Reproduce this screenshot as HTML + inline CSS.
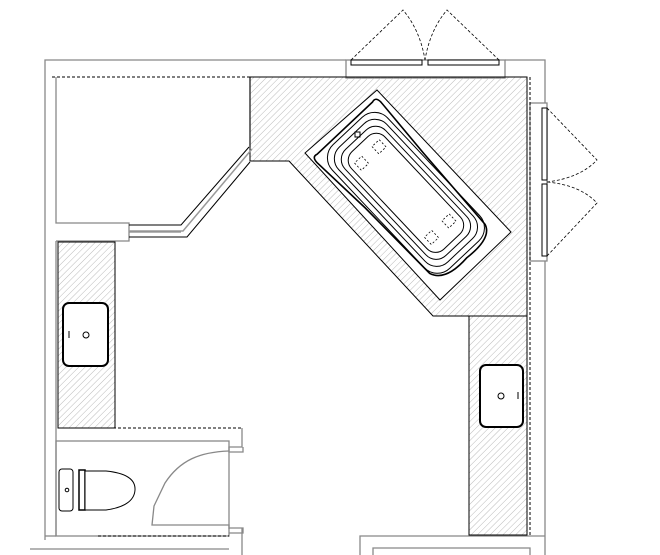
<!DOCTYPE html>
<html><head><meta charset="utf-8"><style>html,body{margin:0;padding:0;background:#fff}svg{display:block}</style></head>
<body>
<svg width="660" height="555" viewBox="0 0 660 555" xmlns="http://www.w3.org/2000/svg">
<defs>
<pattern id="h" patternUnits="userSpaceOnUse" width="4.5" height="4.5" patternTransform="rotate(45)">
<line x1="0" y1="0" x2="0" y2="5" stroke="#aaa" stroke-width="0.8"/>
</pattern>
</defs>
<g fill="none" stroke="#888" stroke-width="1.3">
<polyline points="45,540 45,60 346,60"/>
<polyline points="505,60 545,60 545,103"/>
<line x1="545" y1="261" x2="545" y2="555"/>
<rect x="346" y="60" width="159" height="18"/>
<rect x="530" y="103" width="17" height="158"/>
<polyline points="56,77 56,223 129,223 129,241 56,241"/>
<line x1="129" y1="232" x2="181" y2="232"/>
<polyline points="56,241 56,536"/>
<rect x="56" y="441" width="173" height="95"/>
<line x1="45" y1="536" x2="56" y2="536"/>
<line x1="30" y1="549" x2="229" y2="549"/>
<polyline points="242,428 242,447 229,447 229,452 243,452 243,447"/>
<polyline points="242,528 242,555"/>
<polyline points="229,528 243,528 243,533 229,533"/>
<path d="M229,451 C200,452 180,460 165,483 L154,506 L152,525 L229,525 L229,529"/>
<polyline points="360,555 360,536 545,536"/>
<polyline points="373,555 373,548 530,548 530,555"/>
<line x1="250" y1="77" x2="250" y2="147"/>
</g>
<polygon points="250,77 527,77 527,316 433,316 289,161 250,161" fill="url(#h)" stroke="#000" stroke-width="1"/>
<polygon points="377,90 511,232 440,300 305,153" fill="#fff" stroke="#000" stroke-width="1"/>
<rect x="469" y="316" width="58" height="219" fill="url(#h)" stroke="#000" stroke-width="1"/>
<rect x="58" y="242" width="57" height="186" fill="url(#h)" stroke="#000" stroke-width="1"/>
<line x1="250" y1="77" x2="250" y2="161" stroke="#000"/>
<g stroke="#000" stroke-dasharray="3,2" fill="none" stroke-width="1">
<line x1="52" y1="77" x2="527" y2="77"/>
<line x1="530" y1="77" x2="530" y2="535"/>
<line x1="58" y1="428" x2="242" y2="428"/>
<line x1="98" y1="536" x2="229" y2="536"/>
</g>
<g stroke="#000" fill="none" stroke-width="1">
<polyline points="129,225 181,225 249,147"/>
<polyline points="129,237 187,237 250,162"/>
</g>
<polyline points="129,231 183,231 252,149" stroke="#999" fill="none" stroke-width="1.5"/>
<g stroke="#000" fill="#fff" stroke-width="1">
<rect x="351" y="60" width="71" height="5"/>
<rect x="428" y="60" width="71" height="5"/>
<rect x="542" y="108" width="5" height="72"/>
<rect x="542" y="184" width="5" height="72"/>
</g>
<g stroke="#000" fill="none" stroke-width="0.8" stroke-dasharray="3,2">
<path d="M351,60 L403,10 Q420,30 425,60"/>
<path d="M499,60 L447,10 Q430,30 425,60"/>
<path d="M547,108 L597,160 Q580,178 547,182"/>
<path d="M547,256 L597,203 Q580,185 547,182"/>
</g>
<g transform="translate(408,195) rotate(46.7)" fill="none" stroke="#000" stroke-width="1">
<path d="M-92,-38 Q-94,-44 -86,-44 L-20,-40 L74,-36 Q89,-32 86,0 Q89,32 72,38 L-20,40 L-86,44 Q-94,44 -92,38 Z" stroke-width="1.6"/>
<rect x="-88" y="-38" width="170" height="76" rx="18"/>
<rect x="-82" y="-33" width="158" height="66" rx="16"/>
<rect x="-76" y="-28" width="146" height="56" rx="14"/>
<rect x="-70" y="-23" width="134" height="46" rx="12"/>
<g stroke-dasharray="2,2" stroke-width="0.8">
<rect x="-60" y="-17" width="10" height="10"/><rect x="-60" y="7" width="10" height="10"/>
<rect x="42" y="-17" width="10" height="10"/><rect x="42" y="7" width="10" height="10"/>
</g>
</g>
<rect x="355" y="132" width="5" height="5" fill="none" stroke="#000"/>
<rect x="480" y="365" width="43" height="62" rx="6" fill="#fff" stroke="#000" stroke-width="2"/>
<circle cx="501" cy="396" r="3" fill="none" stroke="#000"/>
<line x1="518" y1="392" x2="518" y2="399" stroke="#000"/>
<rect x="63" y="303" width="45" height="63" rx="6" fill="#fff" stroke="#000" stroke-width="2"/>
<circle cx="86" cy="335" r="3" fill="none" stroke="#000"/>
<line x1="69" y1="331" x2="69" y2="338" stroke="#000"/>
<g stroke="#000" fill="#fff" stroke-width="1">
<rect x="59" y="469" width="14" height="42" rx="3"/>
<rect x="79" y="470" width="6" height="40" stroke-width="1.5"/>
<path d="M85,471 L106,471 Q136,474 135,490 Q134,506 106,510 L85,510 Z"/>
<circle cx="67" cy="490" r="1.8" fill="none"/>
</g>
</svg>
</body></html>
